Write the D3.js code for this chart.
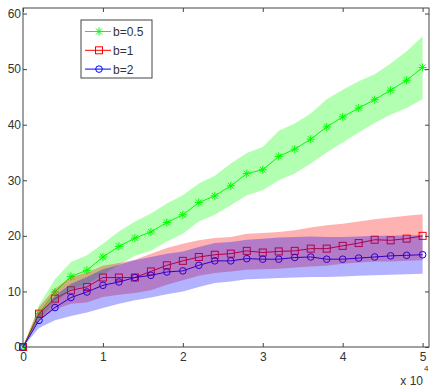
<!DOCTYPE html>
<html>
<head>
<meta charset="utf-8">
<script src="https://cdn.jsdelivr.net/npm/d3@7"></script>
<style>
  body { margin: 0; background: #fff; }
  svg { display: block; font-family: "Liberation Sans", Arial, sans-serif; }
</style>
</head>
<body>
<div id="chart"></div>
<script>
var width = 436, height = 388;
var margin = {top: 8, right: 7, bottom: 41, left: 23};

// x positions (iterations)
var xs = [0, 2000, 4000, 6000, 8000, 10000, 12000, 14000, 16000, 18000, 20000, 22000, 24000,
  26000, 28000, 30000, 32000, 34000, 36000, 38000, 40000, 42000, 44000, 46000, 48000, 50000];

// b=0.5
var greenMean = [0, 6.0, 9.9, 12.7, 13.8, 16.2, 18.1, 19.6, 20.7, 22.4, 23.8, 26.0, 27.2,
  29.0, 31.2, 31.9, 34.3, 35.6, 37.4, 39.6, 41.4, 43.0, 44.5, 46.2, 48.0, 50.3];
var greenUpper = [0, 7.5, 12.2, 15.3, 16.5, 18.6, 20.8, 22.6, 24.0, 25.8, 27.3, 29.4, 30.8,
  33.0, 34.9, 36.0, 38.9, 40.2, 42.0, 44.6, 46.3, 47.8, 49.1, 51.0, 53.2, 55.9];
var greenLower = [0, 5.0, 8.0, 10.3, 11.3, 13.0, 14.8, 16.4, 17.3, 19.0, 20.4, 22.6, 23.8,
  25.5, 27.3, 28.2, 30.0, 31.2, 33.0, 35.0, 36.8, 38.6, 40.3, 41.8, 43.0, 44.6];

// b=1
var redMean = [0, 6.0, 8.7, 10.2, 10.8, 12.5, 12.5, 12.5, 13.6, 14.7, 15.5, 16.2, 16.6,
  16.8, 17.3, 17.0, 17.2, 17.3, 17.7, 17.7, 18.2, 18.7, 19.3, 19.2, 19.5, 20.0];
var redUpper = [0, 7.2, 10.5, 12.6, 13.4, 14.6, 15.1, 15.7, 16.8, 17.8, 18.6, 19.2, 19.6,
  19.8, 20.4, 20.5, 20.7, 21.0, 21.5, 21.9, 22.2, 22.6, 23.0, 23.3, 23.6, 23.9];
var redLower = [0, 4.8, 6.8, 7.8, 8.0, 9.0, 9.4, 9.7, 10.2, 11.2, 12.0, 12.8, 13.3,
  13.6, 13.9, 14.0, 14.1, 14.3, 14.5, 14.6, 15.0, 15.2, 15.4, 15.4, 15.5, 15.6];

// b=2
var blueMean = [0, 4.8, 7.1, 8.9, 9.9, 11.1, 11.7, 12.5, 12.9, 13.5, 13.7, 14.7, 15.5,
  15.5, 15.9, 15.8, 15.8, 16.1, 16.2, 15.8, 15.8, 16.0, 16.2, 16.4, 16.5, 16.6];
var blueUpper = [0, 6.0, 9.2, 11.4, 12.6, 14.0, 14.8, 15.6, 16.2, 16.8, 17.2, 18.0, 18.7,
  18.9, 19.3, 19.5, 19.7, 19.8, 19.9, 19.8, 19.8, 19.9, 20.0, 20.0, 20.1, 20.1];
var blueLower = [0, 3.4, 4.8, 5.6, 6.2, 7.0, 7.8, 8.4, 8.9, 9.5, 10.0, 10.8, 11.5,
  11.8, 12.2, 12.3, 12.4, 12.5, 12.6, 12.6, 12.7, 12.8, 12.9, 13.0, 13.1, 13.2];

var xTicks = [0, 10000, 20000, 30000, 40000, 50000];
var yTicks = [0, 10, 20, 30, 40, 50, 60];
var labels = ['b=0.5', 'b=1', 'b=2'];

var series = [
  {name: labels[0], color: '#00ff00', mean: greenMean, lo: greenLower, hi: greenUpper, marker: 'star'},
  {name: labels[1], color: '#ff0000', mean: redMean, lo: redLower, hi: redUpper, marker: 'square'},
  {name: labels[2], color: '#0000ff', mean: blueMean, lo: blueLower, hi: blueUpper, marker: 'circle'}
];

var svg = d3.select('#chart').append('svg')
    .attr('width', width)
    .attr('height', height);

var xScale = d3.scaleLinear()
    .domain([0, 50800])
    .range([margin.left, width - margin.right]);

var yScale = d3.scaleLinear()
    .domain([0, 61])
    .range([height - margin.bottom, margin.top]);

var plot = svg.append('g');

var line = d3.line()
    .x(function(d, i) { return xScale(xs[i]); })
    .y(function(d) { return yScale(d); });

var area = d3.area()
    .x(function(d, i) { return xScale(xs[i]); })
    .y0(function(d) { return yScale(d[0]); })
    .y1(function(d) { return yScale(d[1]); });

function drawMarker(g, type, color) {
  if (type == 'star') {
    g.append('path')
      .attr('d', 'M-4,0L4,0M0,-4L0,4M-3,-3L3,3M-3,3L3,-3')
      .attr('stroke', color).attr('stroke-width', 1).attr('fill', 'none');
  } else if (type == 'square') {
    g.append('rect')
      .attr('x', -3.5).attr('y', -3.5).attr('width', 7).attr('height', 7)
      .attr('stroke', color).attr('stroke-width', 1).attr('fill', 'none');
  } else {
    g.append('circle')
      .attr('r', 3.3)
      .attr('stroke', color).attr('stroke-width', 1).attr('fill', 'none');
  }
}

// mean lines with markers (drawn first, bands sit on top of them)
series.forEach(function(s) {
  plot.append('path')
    .attr('d', line(s.mean))
    .attr('fill', 'none')
    .attr('stroke', s.color)
    .attr('stroke-width', 1);

  s.mean.forEach(function(v, i) {
    var m = plot.append('g')
      .attr('transform', 'translate(' + xScale(xs[i]) + ',' + yScale(v) + ')');
    drawMarker(m, s.marker, s.color);
  });
});

// shaded bands
series.forEach(function(s) {
  var pts = s.lo.map(function(d, i) { return [d, s.hi[i]]; });
  plot.append('path')
    .attr('d', area(pts))
    .attr('fill', s.color)
    .attr('fill-opacity', 0.3)
    .attr('stroke', 'none');
});

// axes box with inward ticks
var axisColor = '#444';
var x0 = xScale.range()[0], x1 = xScale.range()[1];
var y0 = yScale.range()[0], y1 = yScale.range()[1];

var box = svg.append('g');
box.append('rect')
  .attr('x', x0).attr('y', y1)
  .attr('width', x1 - x0).attr('height', y0 - y1)
  .attr('fill', 'none').attr('stroke', axisColor).attr('stroke-width', 1);

var bottomAxis = d3.axisBottom(xScale).tickValues(xTicks).tickSizeInner(-4).tickSizeOuter(0)
  .tickFormat(function(d) { return d / 10000; });
var topAxis = d3.axisTop(xScale).tickValues(xTicks).tickSizeInner(-4).tickSizeOuter(0)
  .tickFormat('');
var leftAxis = d3.axisLeft(yScale).tickValues(yTicks).tickSizeInner(-4).tickSizeOuter(0);
var rightAxis = d3.axisRight(yScale).tickValues(yTicks).tickSizeInner(-4).tickSizeOuter(0)
  .tickFormat('');

function styleAxis(g) {
  g.select('.domain').remove();
  g.selectAll('line').attr('stroke', axisColor);
  g.selectAll('text')
    .attr('fill', '#333')
    .style('font-size', '12px')
    .style('font-family', '"Liberation Sans", Arial, sans-serif');
}

svg.append('g')
  .attr('transform', 'translate(0,' + y0 + ')')
  .call(bottomAxis)
  .call(styleAxis)
  .selectAll('text').attr('dy', '0').attr('y', 14);

svg.append('g')
  .attr('transform', 'translate(0,' + y1 + ')')
  .call(topAxis)
  .call(styleAxis);

svg.append('g')
  .attr('transform', 'translate(' + x0 + ',0)')
  .call(leftAxis)
  .call(styleAxis)
  .selectAll('text').attr('x', -2);

svg.append('g')
  .attr('transform', 'translate(' + x1 + ',0)')
  .call(rightAxis)
  .call(styleAxis);

// x 10^4 multiplier
svg.append('text')
  .attr('x', 423).attr('y', 385)
  .attr('text-anchor', 'end')
  .attr('fill', '#333')
  .style('font-size', '12px')
  .text('x 10');
svg.append('text')
  .attr('x', 424).attr('y', 371)
  .attr('fill', '#333')
  .style('font-size', '8px')
  .text('4');

// legend
var legend = svg.append('g').attr('transform', 'translate(81,20)');
legend.append('rect')
  .attr('width', 71).attr('height', 58)
  .attr('fill', '#fff').attr('stroke', axisColor).attr('stroke-width', 1);

series.forEach(function(s, i) {
  var row = legend.append('g').attr('transform', 'translate(0,' + (11.5 + i * 18.8) + ')');
  row.append('line')
    .attr('x1', 4).attr('x2', 30)
    .attr('stroke', s.color).attr('stroke-width', 1);
  var m = row.append('g').attr('transform', 'translate(18,0)');
  drawMarker(m, s.marker, s.color);
  row.append('text')
    .attr('x', 32).attr('y', 4.5)
    .attr('fill', '#333')
    .style('font-size', '12px')
    .text(s.name);
});
</script>
</body>
</html>
